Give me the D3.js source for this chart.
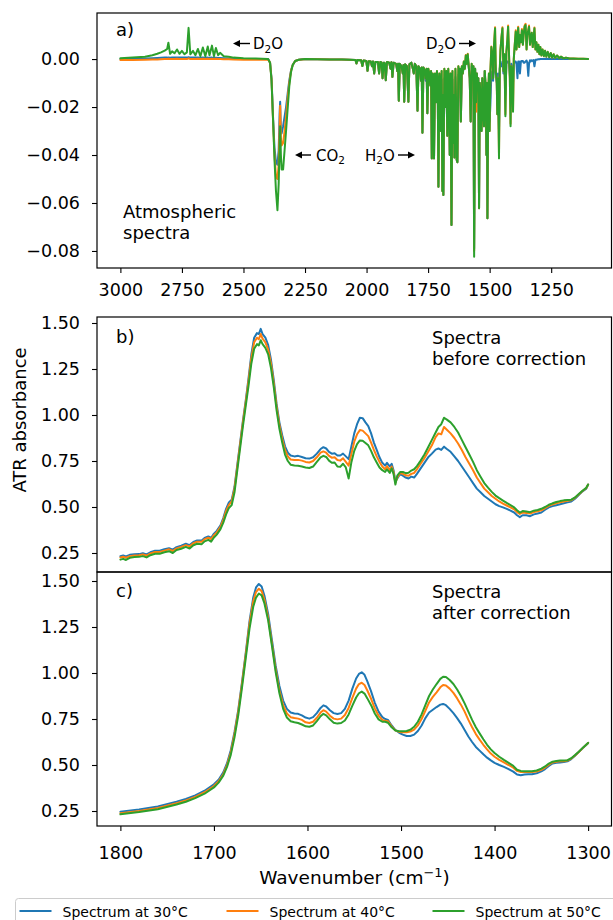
<!DOCTYPE html>
<html><head><meta charset="utf-8">
<script src="https://cdn.jsdelivr.net/npm/d3@7"></script>
<style>
body{margin:0;background:#fff}
svg{display:block}
text{font-family:"DejaVu Sans",sans-serif;fill:#000}
</style>
</head><body>
<svg id="chart" width="613" height="920"></svg>
<script>
// ---------------- DATA ----------------
const seriesNames = ["Spectrum at 30°C", "Spectrum at 40°C", "Spectrum at 50°C"];
const seriesColors = ["#1f77b4", "#ff7f0e", "#2ca02c"];

const atmXTicks = [3000, 2750, 2500, 2250, 2000, 1750, 1500, 1250];
const atmYTicks = [0, -0.02, -0.04, -0.06, -0.08];
const absYTicks = [0.25, 0.50, 0.75, 1.00, 1.25, 1.50];
const wnXTicks = [1800, 1700, 1600, 1500, 1400, 1300];

// (a) atmospheric spectra
const atmWave = [
3000,2950,2900,2870,2850,2835,2820,2810,2805,2798,2790,2780,2770,2760,2750,2740,2730,2723,2716,2705,2695,2685,2675,2665,2655,2645,2638,2628,2620,2612,2603,2595,2580,2560,2540,2500,2450,2400,
2392,2386,2380,2374,2368,2362,2357,2353,2351,2348,2345,2339,2333,2327,2320,2314,2307,2300,2290,2275,2250,
2200,2150,2100,2070,2045,2041,2037,2022,2017,2012,
2001,1996,1991,1983,1978,1974,1969,1964,1954,1949,
1944,1939,1935,1930,1926,1922,1917,1908,1903,1899,
1895,1890,1880,1875,1872,1869,1865,1858,1853,1850,
1847,1843,1836,1830,1826,1818,1812,1808,1804,1798,
1793,1789,1783,1779,1776,1773,1769,1764,1760,1756,
1753,1749,1745,1741,1738,1735,1731,1728,1726,1722,
1718,1714,1711,1708,1704,1701,1698,1695,1692,1690,
1688,1684,1680,1676,1672,1668,1665,1662,1659,1655,
1651,1648,1645,1643,1639,1636,1634,1631,1627,1623,
1620,1617,1613,1609,1605,1601,1597,1593,1589,1585,
1581,1577,1573,1570,1566,1563,1559,1555,1552,1549,
1546,1543,1540,1537,1533,1530,1527,1523,1520,1516,
1513,1511,1509,1506,1503,1500,1497,1493,1489,1486,
1482,1478,1475,1471,1469,1466,1462,1459,1456,1452,
1448,1444,1440,1436,1432,1428,1425,1421,1418,1415,
1412,1408,1405,1402,1398,1394,1391,1387,1384,1380,
1377,1373,1369,1365,1362,1358,1354,1350,1347,1343,
1340,1336,1333,1329,1325,1322,1318,1314,1310,1306,
1302,1298,1294,1290,1285,1280,1275,1270,1264,1258,
1252,1246,1240,1234,1226,1218,1210,1200,1190,1175,
1160,1140,1120,1100];

const atm30 = [
0,.0001,.0002,.0003,.0004,.0005,.0006,.0006,.0007,.0006,.0007,.0006,.0007,.0006,.0007,.0006,.0006,.0008,.0006,.0006,.0006,.0007,.0005,.0007,.0005,.0006,.0005,.0006,.0005,.0005,.0004,.0004,.0003,.0002,.0001,0,0,0,
-.0015,-.0080,-.0240,-.0370,-.0430,-.0440,-.0380,-.0220,-.0178,-.0300,-.0310,-.0280,-.0240,-.0200,-.0140,-.0090,-.0048,-.0025,-.0008,-.0003,0,
-.0001,-.0002,-.0002,-.0003,-.0004,-.0018,-.0004,-.0005,-.0029,-.0006,
-.0008,-.0049,-.0009,-.0010,-.0030,-.0010,-.0060,-.0012,-.0012,-.0060,
-.0012,-.0015,-.0080,-.0015,-.0018,-.0088,-.0012,-.0015,-.0040,-.0013,
-.0074,-.0015,-.0020,-.0050,-.0020,-.0174,-.0020,-.0030,-.0060,-.0025,
-.0178,-.0022,-.0030,-.0178,-.0022,-.0015,-.0040,-.0060,-.0020,-.0030,
-.0215,-.0030,-.0040,-.0090,-.0035,-.0307,-.0035,-.0060,-.0090,-.0060,
-.0226,-.0065,-.0080,-.0110,-.0080,-.0414,-.0090,-.0090,-.0414,-.0090,
-.0180,-.0085,-.0100,-.0532,-.0090,-.0120,-.0300,-.0085,-.0550,-.0150,
-.0567,-.0080,-.0200,-.0085,-.0320,-.0080,-.0150,-.0400,-.0090,-.0692,
-.0085,-.0350,-.0150,-.0410,-.0075,-.0200,-.0420,-.0430,-.0065,-.0080,
-.0060,-.0260,-.0050,-.0060,-.0030,-.0040,-.0010,-.0020,.0000,-.0030,
-.0080,-.0260,-.0030,-.0060,-.0030,-.0790,-.0040,-.0200,-.0060,-.0120,
-.0080,-.0622,-.0100,-.0160,-.0300,-.0080,-.0200,-.0280,-.0050,-.0120,
-.0400,-.0100,-.0664,-.0150,-.0120,-.0260,-.0190,-.0060,-.0050,-.0090,
-.0030,-.0020,-.0060,-.0100,-.0190,-.0060,-.0300,-.0040,-.0020,-.0030,
-.0010,-.0060,-.0020,-.0150,-.0020,-.0010,-.0010,-.0020,-.0060,-.0120,
-.0020,-.0040,-.0100,-.0020,-.0010,-.0010,-.0020,-.0080,-.0010,-.0010,
-.0060,-.0010,-.0008,-.0008,-.0015,-.0015,-.0010,-.0006,-.0015,-.0070,
-.0020,-.0005,-.0010,-.0005,-.0008,-.0004,-.0030,-.0003,-.0003,-.0002,
-.0001,-.0001,.0000,.0000,.0000,.0000,.0001,.0000,.0001,.0000,
.0001,.0000,.0001,.0000,.0001,.0000,.0001,.0000,.0001,.0000,
.0000,.0000,.0000,.0000];

const atm40 = [
-.0004,-.0004,-.0003,-.0002,-.0002,-.0001,0,0,.0001,0,0,0,.0001,0,0,0,0,.0003,0,0,0,.0001,0,.0001,0,.0001,0,.0001,0,.0001,0,0,-.0001,-.0001,-.0002,-.0003,-.0003,-.0002,
-.0015,-.0085,-.0250,-.0400,-.0490,-.0500,-.0440,-.0280,-.0195,-.0330,-.0360,-.0350,-.0300,-.0240,-.0160,-.0100,-.0050,-.0025,-.0008,-.0003,-.0001,
-.0001,-.0002,-.0002,-.0003,-.0004,-.0018,-.0004,-.0005,-.0029,-.0006,
-.0008,-.0049,-.0009,-.0010,-.0030,-.0010,-.0060,-.0012,-.0012,-.0060,
-.0012,-.0015,-.0080,-.0015,-.0018,-.0088,-.0012,-.0015,-.0040,-.0013,
-.0074,-.0015,-.0020,-.0050,-.0020,-.0174,-.0020,-.0030,-.0060,-.0025,
-.0178,-.0022,-.0030,-.0178,-.0022,-.0015,-.0040,-.0060,-.0020,-.0030,
-.0215,-.0030,-.0040,-.0090,-.0035,-.0307,-.0035,-.0045,-.0080,-.0040,
-.0226,-.0040,-.0060,-.0110,-.0050,-.0414,-.0060,-.0070,-.0414,-.0060,
-.0180,-.0050,-.0090,-.0532,-.0060,-.0120,-.0300,-.0050,-.0550,-.0150,
-.0567,-.0040,-.0200,-.0050,-.0320,-.0040,-.0150,-.0400,-.0060,-.0692,
-.0050,-.0350,-.0150,-.0410,-.0040,-.0200,-.0420,-.0430,-.0030,-.0080,
-.0040,-.0260,-.0030,-.0060,-.0010,-.0040,.0017,-.0020,.0022,-.0030,
-.0080,-.0260,-.0020,-.0060,-.0030,-.0800,-.0040,-.0220,-.0060,-.0120,
-.0080,-.0622,-.0100,-.0160,-.0300,-.0080,-.0200,-.0280,-.0050,-.0120,
-.0400,-.0100,-.0664,-.0150,-.0060,-.0300,-.0050,.0052,.0017,-.0080,
.0060,.0133,-.0050,-.0100,-.0230,-.0080,-.0400,-.0050,.0040,.0090,
.0133,-.0050,.0020,-.0230,.0030,.0080,.0140,.0010,-.0080,-.0270,
-.0030,-.0050,-.0215,.0000,.0060,.0120,.0040,.0090,.0135,.0050,
.0100,.0070,.0125,.0060,.0100,.0140,.0147,.0040,.0100,.0120,
.0140,.0060,.0090,.0110,.0050,.0080,.0132,.0040,.0070,.0030,
.0060,.0020,.0050,.0015,.0040,.0012,.0035,.0010,.0030,.0008,
.0025,.0006,.0020,.0005,.0015,.0004,.0010,.0003,.0006,.0002,
.0002,.0001,.0001,.0000];

const atm50 = [
.0003,.0006,.0010,.0016,.0022,.0028,.0035,.0042,.0068,.0022,.0032,.0024,.0040,.0022,.0034,.0020,.0028,.0130,.0020,.0034,.0016,.0042,.0012,.0048,.0012,.0052,.0016,.0056,.0012,.0046,.0016,.0026,.0012,.0010,.0006,.0003,.0002,.0000,
-.0015,-.0090,-.0250,-.0420,-.0550,-.0630,-.0520,-.0350,-.0280,-.0400,-.0460,-.0460,-.0380,-.0300,-.0200,-.0115,-.0055,-.0025,-.0008,-.0003,.0000,
-.0001,-.0002,-.0002,-.0003,-.0004,-.0018,-.0004,-.0005,-.0029,-.0006,
-.0008,-.0049,-.0009,-.0010,-.0030,-.0010,-.0060,-.0012,-.0012,-.0060,
-.0012,-.0015,-.0080,-.0015,-.0018,-.0088,-.0012,-.0015,-.0040,-.0013,
-.0074,-.0015,-.0020,-.0050,-.0020,-.0174,-.0020,-.0030,-.0060,-.0025,
-.0178,-.0022,-.0030,-.0178,-.0022,-.0015,-.0040,-.0060,-.0020,-.0030,
-.0215,-.0030,-.0040,-.0090,-.0035,-.0307,-.0035,-.0045,-.0080,-.0040,
-.0226,-.0040,-.0060,-.0110,-.0050,-.0414,-.0060,-.0070,-.0414,-.0060,
-.0180,-.0050,-.0090,-.0532,-.0060,-.0120,-.0300,-.0050,-.0550,-.0150,
-.0567,-.0040,-.0200,-.0050,-.0320,-.0040,-.0150,-.0400,-.0060,-.0692,
-.0050,-.0350,-.0150,-.0410,-.0040,-.0200,-.0420,-.0430,-.0030,-.0080,
-.0040,-.0260,-.0030,-.0060,-.0010,-.0040,.0015,-.0020,.0020,-.0030,
-.0080,-.0260,-.0020,-.0060,-.0030,-.0824,-.0040,-.0180,-.0060,-.0120,
-.0080,-.0622,-.0100,-.0160,-.0300,-.0080,-.0200,-.0280,-.0050,-.0120,
-.0400,-.0100,-.0664,-.0150,-.0060,-.0300,-.0050,.0050,.0017,-.0080,
.0060,.0128,-.0050,-.0100,-.0230,-.0080,-.0414,-.0050,.0040,.0090,
.0128,-.0050,.0020,-.0238,.0030,.0080,.0135,.0010,-.0080,-.0280,
-.0030,-.0050,-.0220,.0000,.0060,.0115,.0040,.0090,.0130,.0050,
.0100,.0070,.0120,.0060,.0100,.0135,.0142,.0040,.0100,.0120,
.0135,.0060,.0090,.0110,.0050,.0080,.0128,.0040,.0070,.0030,
.0060,.0020,.0050,.0015,.0040,.0012,.0035,.0010,.0030,.0008,
.0025,.0006,.0020,.0005,.0015,.0004,.0010,.0003,.0006,.0002,
.0002,.0001,.0001,.0000];

// (b) spectra before correction
const beforeWave = [1800,1797,1794,1790,1785,1780,1776,1772,1768,1763,1758,1753,1748,1744,1740,1735,1730,1726,1722,1718,1713,1710,1706,1703,1700,1697,1693,1690,1687,1684,1681,1678,1675,1672,1669,1666,1663,1660,1657,1654,1652,1650,1648,1645,1642,1639,1636,1633,1630,1627,1624,1621,1618,1614,1610,1606,1602,1598,1594,1590,1586,1583,1580,1577,1574,1571,1568,1565,1562,1559,1556,1553,1550,1547,1544,1541,1538,1535,1532,1529,1526,1523,1520,1517,1515,1512,1510,1508,1506,1504,1501,1498,1495,1492,1489,1486,1483,1479,1475,1471,1467,1463,1460,1457,1454,1451,1447,1443,1439,1435,1431,1427,1423,1419,1415,1411,1407,1403,1399,1395,1391,1387,1383,1379,1376,1373,1370,1366,1362,1358,1354,1350,1346,1342,1338,1334,1330,1326,1322,1318,1314,1310,1306,1302,1300];
const before30 = [.232,.236,.231,.240,.243,.244,.249,.242,.254,.262,.262,.270,.276,.268,.282,.290,.300,.293,.310,.318,.318,.332,.340,.333,.355,.370,.400,.440,.490,.525,.540,.610,.730,.850,.970,1.080,1.200,1.330,1.420,1.445,1.440,1.468,1.440,1.420,1.380,1.300,1.190,1.060,.960,.890,.830,.795,.780,.775,.778,.772,.765,.763,.770,.790,.815,.825,.818,.800,.790,.792,.780,.780,.790,.775,.760,.830,.900,.950,.985,.983,.960,.940,.900,.850,.810,.770,.740,.725,.740,.720,.735,.700,.640,.655,.680,.670,.660,.655,.665,.660,.680,.710,.740,.770,.790,.812,.818,.810,.828,.815,.800,.775,.750,.720,.690,.660,.630,.600,.580,.560,.545,.530,.515,.505,.498,.490,.480,.470,.455,.445,.455,.455,.450,.460,.465,.470,.485,.498,.505,.510,.515,.520,.525,.530,.545,.565,.585,.600,.622];
const before40 = [.226,.230,.224,.233,.236,.238,.242,.236,.247,.255,.256,.263,.270,.261,.275,.283,.293,.286,.303,.311,.311,.325,.333,.326,.347,.362,.392,.430,.478,.512,.530,.600,.720,.840,.960,1.070,1.185,1.310,1.395,1.420,1.412,1.440,1.415,1.395,1.355,1.280,1.170,1.045,.945,.870,.810,.775,.758,.755,.756,.752,.745,.742,.750,.770,.795,.802,.795,.778,.768,.770,.755,.752,.765,.745,.725,.790,.855,.895,.918,.915,.900,.885,.850,.810,.775,.745,.720,.705,.722,.700,.720,.690,.632,.660,.685,.680,.672,.670,.680,.685,.705,.735,.765,.800,.835,.880,.900,.895,.935,.920,.900,.875,.845,.810,.770,.735,.700,.660,.630,.600,.580,.560,.545,.530,.518,.508,.498,.487,.472,.462,.470,.468,.465,.472,.477,.482,.494,.506,.514,.520,.525,.530,.534,.537,.550,.568,.587,.602,.622];
const before50 = [.214,.218,.212,.224,.228,.229,.233,.226,.238,.246,.246,.254,.260,.250,.266,.273,.283,.274,.292,.300,.298,.313,.321,.312,.334,.350,.380,.415,.460,.495,.510,.580,.700,.820,.940,1.050,1.160,1.280,1.360,1.385,1.378,1.406,1.385,1.365,1.330,1.255,1.150,1.025,.925,.850,.785,.750,.730,.725,.724,.720,.715,.712,.720,.745,.770,.778,.772,.752,.740,.742,.720,.718,.735,.715,.655,.745,.805,.842,.862,.860,.848,.835,.805,.770,.742,.715,.700,.690,.705,.685,.710,.680,.622,.670,.690,.690,.684,.686,.698,.705,.722,.752,.785,.825,.865,.905,.935,.950,.985,.975,.960,.935,.905,.865,.825,.785,.745,.700,.665,.630,.605,.582,.562,.548,.535,.522,.510,.498,.482,.470,.478,.476,.472,.480,.484,.490,.500,.512,.520,.527,.532,.536,.538,.540,.552,.570,.588,.604,.622];

// (c) spectra after correction
const afterWave = [1800,1780,1760,1740,1730,1720,1710,1700,1695,1690,1686,1682,1678,1674,1670,1666,1662,1658,1655,1652,1649,1646,1642,1638,1634,1630,1626,1622,1618,1614,1610,1606,1602,1598,1594,1590,1586,1583,1580,1576,1572,1568,1564,1560,1556,1552,1548,1545,1542,1539,1536,1532,1528,1524,1520,1517,1514,1510,1506,1502,1498,1494,1490,1486,1482,1478,1474,1470,1466,1462,1458,1455,1452,1448,1444,1440,1436,1432,1428,1424,1420,1416,1412,1408,1404,1400,1395,1390,1385,1380,1376,1372,1368,1364,1360,1355,1350,1346,1342,1338,1334,1330,1326,1322,1318,1314,1310,1305,1300];
const after30 = [.246,.258,.275,.300,.315,.335,.360,.395,.420,.460,.510,.580,.680,.800,.950,1.110,1.280,1.410,1.465,1.484,1.470,1.420,1.320,1.180,1.040,.930,.850,.805,.785,.780,.778,.770,.758,.752,.760,.782,.810,.824,.818,.798,.782,.777,.782,.805,.850,.915,.970,.995,1.004,.990,.955,.900,.838,.790,.760,.750,.745,.715,.690,.675,.665,.658,.658,.665,.685,.715,.755,.785,.800,.815,.828,.832,.825,.805,.782,.755,.725,.690,.655,.625,.598,.578,.558,.540,.525,.512,.500,.490,.478,.464,.448,.444,.448,.450,.450,.455,.465,.478,.495,.508,.512,.514,.516,.520,.532,.550,.570,.595,.620];
const after40 = [.238,.250,.267,.292,.307,.327,.352,.386,.412,.450,.500,.568,.668,.790,.940,1.100,1.265,1.390,1.440,1.458,1.445,1.398,1.300,1.160,1.020,.905,.825,.780,.760,.755,.752,.745,.732,.728,.735,.757,.785,.798,.790,.768,.752,.748,.752,.772,.810,.865,.915,.940,.947,.935,.905,.860,.808,.768,.745,.740,.738,.710,.688,.680,.678,.678,.682,.692,.715,.750,.795,.840,.870,.895,.922,.935,.932,.915,.892,.862,.828,.790,.745,.705,.668,.638,.610,.585,.562,.545,.528,.514,.500,.485,.468,.462,.462,.462,.462,.465,.474,.486,.502,.514,.518,.520,.521,.524,.535,.552,.571,.596,.620];
const after50 = [.232,.244,.260,.285,.300,.320,.344,.378,.404,.442,.490,.555,.650,.770,.920,1.080,1.240,1.360,1.410,1.432,1.422,1.378,1.285,1.148,1.005,.890,.805,.758,.738,.732,.728,.720,.710,.708,.715,.738,.765,.778,.770,.748,.730,.725,.728,.742,.775,.823,.867,.890,.899,.888,.862,.825,.780,.748,.735,.735,.730,.705,.687,.684,.684,.685,.692,.708,.735,.775,.825,.875,.910,.940,.968,.980,.978,.962,.940,.910,.875,.835,.790,.745,.705,.672,.640,.610,.585,.565,.545,.528,.512,.495,.474,.468,.466,.466,.466,.470,.480,.492,.508,.518,.522,.524,.524,.526,.537,.554,.572,.597,.620];

// ---------------- DRAWING ----------------
const svg = d3.select("#chart");
const FONT = '"DejaVu Sans", sans-serif';
const L = 97, R = 611.5;

const panels = [
  {id:"a", top:13, bottom:268, xd:[3095,1005], yd:[-0.0871,0.0192], xt:atmXTicks, yt:atmYTicks,
   xLab:true, xBase:27.5, wave:atmWave, series:[atm30,atm40,atm50]},
  {id:"b", top:317, bottom:572, xd:[1825,1275], yd:[0.1467,1.5326], xt:wnXTicks, yt:absYTicks,
   xLab:false, wave:beforeWave, series:[before30,before40,before50]},
  {id:"c", top:572, bottom:826, xd:[1825,1275], yd:[0.1685,1.5489], xt:wnXTicks, yt:absYTicks,
   xLab:true, xBase:33, wave:afterWave, series:[after30,after40,after50]}
];

const defs = svg.append("defs");
const yFmt = d3.format(".2f");

panels.forEach(p => {
  const x = d3.scaleLinear().domain(p.xd).range([L, R]);
  const y = d3.scaleLinear().domain(p.yd).range([p.bottom, p.top]);
  p.x = x; p.y = y;

  defs.append("clipPath").attr("id", "clip-" + p.id)
    .append("rect").attr("x", L).attr("y", p.top).attr("width", R - L).attr("height", p.bottom - p.top);

  const g = svg.append("g").attr("clip-path", "url(#clip-" + p.id + ")");
  p.series.forEach((vals, i) => {
    const n = Math.min(vals.length, p.wave.length);
    const pts = d3.range(n).map(k => [p.wave[k], vals[k]]);
    g.append("path")
      .datum(pts)
      .attr("fill", "none")
      .attr("stroke", seriesColors[i])
      .attr("stroke-width", 2)
      .attr("stroke-linejoin", "round")
      .attr("stroke-linecap", "round")
      .attr("d", d3.line().x(d => x(d[0])).y(d => y(d[1])));
  });

  // y axis
  const ya = svg.append("g").attr("transform", `translate(${L},0)`)
    .call(d3.axisLeft(y).tickValues(p.yt).tickSize(5).tickPadding(12).tickFormat(yFmt));
  ya.select(".domain").remove();
  ya.selectAll(".tick line").attr("stroke", "#000").attr("stroke-width", 1.1);
  ya.selectAll(".tick text").attr("font-family", FONT).attr("font-size", 17.5).attr("fill", "#000");

  // x axis
  if (p.xLab) {
    const xa = svg.append("g").attr("transform", `translate(0,${p.bottom})`)
      .call(d3.axisBottom(x).tickValues(p.xt).tickSize(5).tickFormat(d3.format("d")));
    xa.select(".domain").remove();
    xa.selectAll(".tick line").attr("stroke", "#000").attr("stroke-width", 1.1);
    xa.selectAll(".tick text").attr("font-family", FONT).attr("font-size", 17.5).attr("fill", "#000")
      .attr("y", p.xBase).attr("dy", 0);
  }

  // frame
  svg.append("rect").attr("x", L).attr("y", p.top).attr("width", R - L).attr("height", p.bottom - p.top)
    .attr("fill", "none").attr("stroke", "#000").attr("stroke-width", 1.2);
});

// panel texts
function txt(x, y, s, size, anchor) {
  return svg.append("text").attr("x", x).attr("y", y).attr("font-size", size)
    .attr("text-anchor", anchor || "start").text(s);
}
txt(116, 36, "a)", 18);
txt(116, 343, "b)", 18);
txt(116, 597, "c)", 18);
txt(123, 218, "Atmospheric", 18);
txt(123, 239, "spectra", 18);
txt(432, 344, "Spectra", 18);
txt(432, 365, "before correction", 18);
txt(432, 598, "Spectra", 18);
txt(432, 619, "after correction", 18);

// chemical labels with subscripts
function chem(x, y, a, sub, b) {
  const t = svg.append("text").attr("x", x).attr("y", y).attr("font-size", 15);
  t.append("tspan").text(a);
  t.append("tspan").attr("font-size", 10.5).attr("dy", 3.5).text(sub);
  t.append("tspan").attr("dy", -3.5).text(b);
}
function arrow(x1, x2, yy) { // from x1 (tail) to x2 (head)
  const dir = Math.sign(x2 - x1);
  const hl = 7, hw = 3.6;
  svg.append("line").attr("x1", x1).attr("x2", x2 - dir * hl * 0.8).attr("y1", yy).attr("y2", yy)
    .attr("stroke", "#000").attr("stroke-width", 1.4);
  svg.append("path").attr("d", `M${x2},${yy} L${x2 - dir * hl},${yy - hw} L${x2 - dir * hl},${yy + hw} Z`)
    .attr("fill", "#000");
}
arrow(250, 233, 43.5); chem(253, 49, "D", "2", "O");
chem(426, 49, "D", "2", "O"); arrow(459, 476, 43.5);
arrow(311, 295, 155); chem(316, 160.5, "CO", "2", "");
chem(365, 160.5, "H", "2", "O"); arrow(398, 415, 155);

// axis labels
svg.append("text").attr("transform", "translate(26,420) rotate(-90)")
  .attr("text-anchor", "middle").attr("font-size", 18).text("ATR absorbance");
const xl = svg.append("text").attr("x", 354.5).attr("y", 884).attr("text-anchor", "middle").attr("font-size", 18.5);
xl.append("tspan").text("Wavenumber (cm");
xl.append("tspan").attr("font-size", 13).attr("dy", -7).text("\u22121");
xl.append("tspan").attr("dy", 7).text(")");

// legend
svg.append("rect").attr("x", 15.5).attr("y", 898.5).attr("width", 640).attr("height", 50).attr("rx", 3)
  .attr("fill", "#fff").attr("stroke", "#cccccc").attr("stroke-width", 1);
const legendX = [19.5, 226.5, 432.5];
seriesNames.forEach((name, i) => {
  const lx = legendX[i];
  svg.append("line").attr("x1", lx).attr("x2", lx + 32).attr("y1", 911).attr("y2", 911)
    .attr("stroke", seriesColors[i]).attr("stroke-width", 2);
  svg.append("text").attr("x", lx + 43).attr("y", 917).attr("font-size", 14).text(name);
});
</script>
</body></html>
